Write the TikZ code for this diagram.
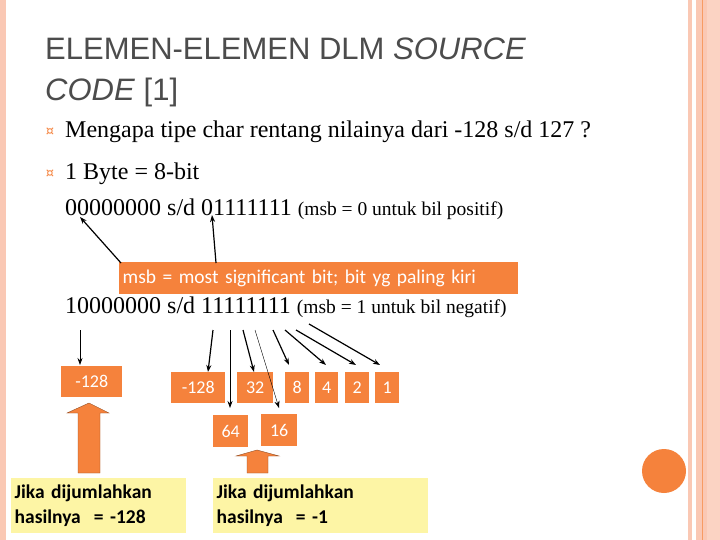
\documentclass[tikz,border=0pt]{standalone}
\usepackage{fontspec}
\setmainfont{Liberation Serif}
\newfontfamily\ttlf{Liberation Sans}
\newfontfamily\carlf{Carlito}
\newfontfamily\djvf{DejaVu Sans}
\usetikzlibrary{arrows.meta}
\definecolor{org}{RGB}{245,130,60}
\definecolor{pale}{RGB}{250,200,180}
\definecolor{ylw}{RGB}{253,245,165}
\begin{document}
\begin{tikzpicture}[x=1pt,y=-1pt,
  ob/.style={fill=org,inner sep=0pt,text=white,font=\carlf\fontsize{18}{20}\selectfont},
  yb/.style={fill=ylw,inner sep=0pt,align=left,font=\carlf\bfseries\fontsize{19.5}{25}\selectfont},
  ar/.style={-{Stealth[length=7pt,width=5pt]},line width=1.2pt},
  body/.style={anchor=base west,inner sep=0pt,font=\fontsize{24}{28}\selectfont},
  blk/.style={fill=org,draw=org!60!black,line width=0.4pt}]
\useasboundingbox (0,0) rectangle (720,540);
\fill[white] (0,0) rectangle (720,540);
% borders
\fill[pale] (0,0) rectangle (6,540);
\fill[pale] (688,0) rectangle (692,540);
\fill[pale] (696,0) rectangle (707,540);
\fill[org!80] (701.5,0) rectangle (703,540);
\fill[pale!80] (707,0) rectangle (720,540);
% title
\node[anchor=base west,inner sep=0pt,text=black!70,font=\ttlf\fontsize{31}{36}\selectfont] (t1) at (45,60) {ELEMEN-ELEMEN DLM \textit{SOURCE}};
\node[anchor=base west,inner sep=0pt,text=black!70,font=\ttlf\fontsize{31}{36}\selectfont] (t2) at (45,101) {\textit{CODE} [1]};
% bullets
\node[anchor=base,inner sep=0pt,text=org,font=\djvf\fontsize{13}{14}\selectfont] (b1) at (50,136) {¤};
\node[anchor=base,inner sep=0pt,text=org,font=\djvf\fontsize{13}{14}\selectfont] (b2) at (50,178) {¤};
\node[body] (l1) at (65,138) {Mengapa tipe char rentang nilainya dari -128 s/d 127 ?};
\node[body] (l2) at (65,180) {1 Byte = 8-bit};
\node[body] (l3) at (65,215) {00000000 s/d 01111111 {\fontsize{19.5}{22}\selectfont (msb = 0 untuk bil positif)}};
\node[body] (l4) at (65,313) {10000000 s/d 11111111 {\fontsize{19.5}{22}\selectfont (msb = 1 untuk bil negatif)}};
% msb box
\node[ob,font=\carlf\fontsize{19.5}{22}\selectfont,minimum width=399pt,minimum height=32pt,anchor=north west,text width=392pt,align=left] (msb) at (119,262) {msb = most significant bit; bit yg paling kiri};
\coordinate (u1) at (80,217); \coordinate (u2) at (212,215);
\draw[ar] (121,263) -- (u1);
\draw[ar] (216,263) -- (u2);
% value boxes
\node[ob,minimum width=61pt,minimum height=31pt,anchor=north west] (v0) at (61,366) {-128};
\node[ob,minimum width=54pt,minimum height=31pt,anchor=north west] (va) at (171,372) {-128};
\node[ob,minimum width=36pt,minimum height=31pt,anchor=north west] (vb) at (237,372) {32};
\node[ob,minimum width=24pt,minimum height=31pt,anchor=north west] (vc) at (285,372) {8};
\node[ob,minimum width=23pt,minimum height=31pt,anchor=north west] (vd) at (315,372) {4};
\node[ob,minimum width=24pt,minimum height=31pt,anchor=north west] (ve) at (345,372) {2};
\node[ob,minimum width=24pt,minimum height=31pt,anchor=north west] (vf) at (375,372) {1};
\node[ob,minimum width=35pt,minimum height=32pt,anchor=north west] (vg) at (213,415) {64};
\node[ob,minimum width=36pt,minimum height=32pt,anchor=north west] (vh) at (261,414) {16};
% down arrows
\draw[ar,line width=0.8pt] (80,330) -- (80,365);
\draw[ar] (213,330) -- (208,372);
\draw[ar,line width=0.8pt] (230,330) -- (230,408);
\draw[ar] (243,330) -- (254,372);
\draw[ar,line width=0.4pt] (255,330) -- (279,408);
\draw[ar] (273,330) -- (289,365);
\draw[ar] (285,330) -- (326,365);
\draw[ar] (296,330) -- (356,365);
\draw[ar] (309,324) -- (380,365);
% block arrows
\draw[blk] (78,473) -- (78,413) -- (67,413) -- (89,403) -- (109,413) -- (100,413) -- (100,473) -- cycle;
\draw[blk] (247,473) -- (247,456) -- (236,456) -- (257,450) -- (279,456) -- (268,456) -- (268,473) -- cycle;
% yellow boxes
\node[yb,minimum width=175pt,minimum height=55pt,anchor=north west,text width=168pt] (y1) at (11,478) {Jika dijumlahkan\\hasilnya\ \ = -128};
\node[yb,minimum width=215pt,minimum height=55pt,anchor=north west,text width=208pt] (y2) at (213,478) {Jika dijumlahkan\\hasilnya\ \ = -1};
% circle
\fill[org] (664,471) circle[x radius=22pt,y radius=22pt];
\end{tikzpicture}
\end{document}
